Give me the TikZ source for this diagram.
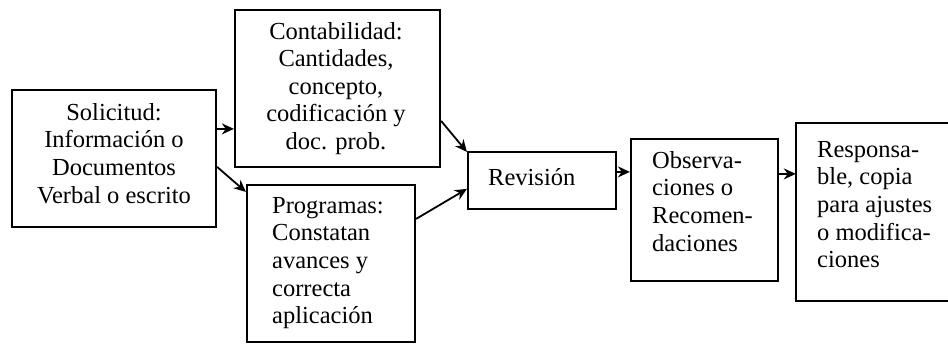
\documentclass[tikz,border=0pt]{standalone}
\usepackage{fontspec}
\setmainfont{Liberation Serif}
\usetikzlibrary{arrows.meta,calc}
\begin{document}
\begin{tikzpicture}[x=1pt,y=-1pt,
  box/.style={draw=black, line width=2.2pt, rectangle, inner sep=0pt},
  openbox/.style={rectangle, inner sep=0pt},
  txt/.style={inner sep=0pt, font=\fontsize{24.5}{27.6}\selectfont, text=black},
  arr/.style={draw=black, line width=1.8pt, -{Stealth[length=12pt,width=11pt]}}]
\useasboundingbox (0,0) rectangle (948,345);
\fill[white] (0,0) rectangle (948,345);
% boxes
\node[box, minimum width=204pt, minimum height=137pt] (b1) at (114,158.5) {};
\node[box, minimum width=205pt, minimum height=157pt] (b2) at (337.5,88.5) {};
\node[box, minimum width=168pt, minimum height=157pt] (b3) at (331,263.5) {};
\node[box, minimum width=148pt, minimum height=57pt] (b4) at (542,180.5) {};
\node[box, minimum width=147pt, minimum height=142pt] (b5) at (704.5,210) {};
\node[openbox, minimum width=152pt, minimum height=178pt] (b6) at (872,212) {};
\draw[line width=2.2pt] (b6.north east) -- (b6.north west) -- (b6.south west) -- (b6.south east);
% texts
\node[txt, align=center, anchor=north] (t1) at (114,103) {Solicitud:\\Información o\\Documentos\\Verbal o escrito};
\node[txt, align=center, anchor=north] (t2) at (336,22) {Contabilidad:\\Cantidades,\\concepto,\\codificación y\\doc. prob.};
\node[txt, align=left, anchor=north west] (t3) at (272,197) {Programas:\\Constatan\\avances y\\correcta\\aplicación};
\node[txt, anchor=base west] (t4) at (488,185) {Revisión};
\node[txt, align=left, anchor=north west] (t5) at (652,151) {Observa-\\ciones o\\Recomen-\\daciones};
\node[txt, align=left, anchor=north west] (t6) at (817,141) {Responsa-\\ble, copia\\para ajustes\\o modifica-\\ciones};
% connectors
\draw[arr] ([yshift=-40pt]b1.north east) -- ([yshift=-40pt]b1.north east -| b2.west);
\draw[arr] ([yshift=-78pt]b1.north east) -- ([yshift=-8pt]b3.north west);
\draw[arr] ([yshift=-112pt]b2.north east) -- ([yshift=-1pt]b4.north west);
\draw[arr] ([yshift=-35pt]b3.north east) -- ([yshift=-38pt]b4.north west);
\draw[arr] ([yshift=-21pt]b4.north east) -- ([yshift=-21pt]b4.north east -| b5.west);
\draw[arr] ([yshift=-36pt]b5.north east) -- ([yshift=-36pt]b5.north east -| b6.west);
\end{tikzpicture}
\end{document}
